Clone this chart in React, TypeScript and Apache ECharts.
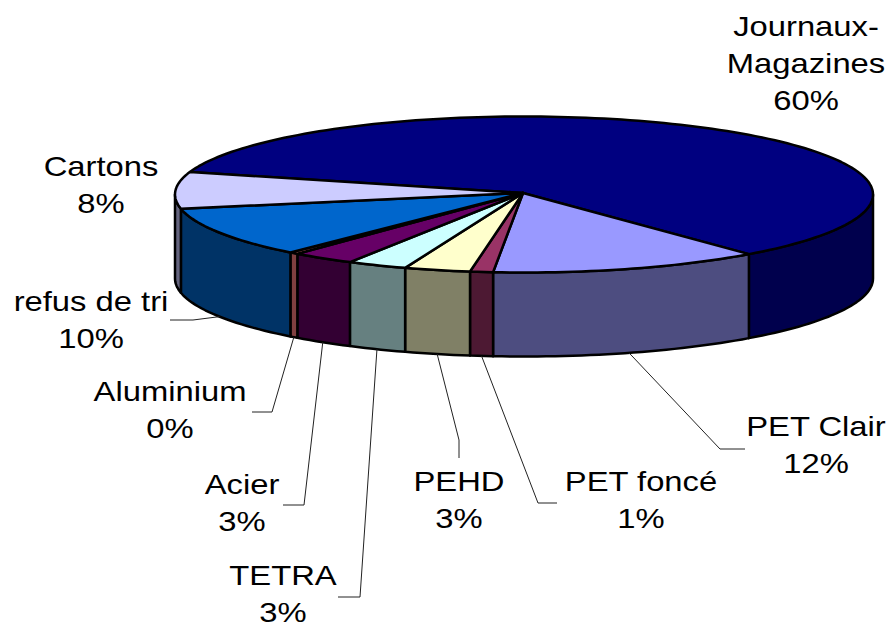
import React, { useEffect, useRef } from "react";
import * as echarts from "echarts";

const categories = ["Journaux-\nMagazines", "PET Clair", "PET foncé", "PEHD", "TETRA", "Acier", "Aluminium", "refus de tri", "Cartons"];
const shares = [59.2, 12.56, 1.06, 3.06, 2.78, 2.94, 0.42, 10.4, 7.6];
const percentLabels = ["60%", "12%", "1%", "3%", "3%", "3%", "0%", "10%", "8%"];
const topColors = ["#000080", "#9999FF", "#993366", "#FFFFCC", "#CCFFFF", "#660066", "#FF8080", "#0066CC", "#CCCCFF"];
const sideColors = ["#00004D", "#4D4D80", "#4D1933", "#808066", "#668080", "#330033", "#804040", "#003366", "#666680"];

// layout of the tilted pie
const CX = 524, CY = 194.5, RX = 349, RY = 78, DEPTH = 84, START_DEG = -163.2;
const CENTER: [number, number] = [523, 193];
const FONT_SIZE = 28, LINE_H = 37, STRETCH = 1.17;

// label anchor (centre x, centre y of the block) and leader-line elbows
const labelPos: [number, number][] = [
  [806, 63], [816, 444], [641, 499], [459, 499], [283, 593], [242, 502], [170, 409], [91, 319], [101, 184],
];
const leaderElbows: [number, number][][] = [
  [], [[720, 449], [745, 449]], [[538, 503], [557, 503]], [[459, 440], [459, 458]], [[360, 597], [338, 597]],
  [[304, 505], [283, 505]], [[272, 412], [252, 412]], [[193, 320], [170, 320]], [],
];

const total = shares.reduce((a, b) => a + b, 0);
const rim = (deg: number, dy = 0): [number, number] => {
  const r = (deg * Math.PI) / 180;
  return [CX + RX * Math.cos(r), CY + RY * Math.sin(r) + dy];
};
const arc = (a: number, b: number, dy = 0) => {
  const pts: [number, number][] = [];
  const n = Math.max(2, Math.ceil(Math.abs(b - a) / 1.5));
  for (let i = 0; i <= n; i++) pts.push(rim(a + ((b - a) * i) / n, dy));
  return pts;
};

const renderItem = (params: any, api: any) => {
  const i = params.dataIndex;
  const before = shares.slice(0, i).reduce((a, b) => a + b, 0);
  const a0 = START_DEG + (before / total) * 360;
  const a1 = a0 + (api.value(0) / total) * 360;
  const children: any[] = [];
  const edge = { stroke: "#000", lineWidth: 2.5, lineJoin: "round" };

  const w0 = Math.max(a0, 0), w1 = Math.min(a1, 180);
  if (w1 > w0) {
    children.push({
      type: "polygon",
      shape: { points: [...arc(w0, w1), ...arc(w0, w1, DEPTH).reverse()] },
      style: { fill: sideColors[i], ...edge },
    });
  }
  children.push({
    type: "polygon",
    shape: { points: [CENTER, ...arc(a0, a1)] },
    style: { fill: topColors[i], ...edge },
  });
  if (leaderElbows[i].length) {
    children.push({
      type: "polyline",
      shape: { points: [rim((a0 + a1) / 2, DEPTH), ...leaderElbows[i]] },
      style: { stroke: "#222", lineWidth: 1, fill: "none" },
    });
  }
  children.push({
    type: "text",
    x: labelPos[i][0],
    y: labelPos[i][1],
    scaleX: STRETCH,
    style: {
      text: `${categories[i]}\n${percentLabels[i]}`,
      x: 0,
      y: 0,
      align: "center",
      verticalAlign: "middle",
      fontFamily: "Liberation Sans",
      fontSize: FONT_SIZE,
      lineHeight: LINE_H,
      fill: "#000",
    },
  });
  return { type: "group", children };
};

export default function App() {
  const ref = useRef<HTMLDivElement>(null);
  useEffect(() => {
    document.body.style.margin = "0";
    const chart = echarts.init(ref.current!, undefined, { renderer: "svg" });
    chart.setOption({
      animation: false,
      backgroundColor: "#fff",
      series: [
        {
          type: "custom",
          coordinateSystem: "none",
          silent: true,
          clip: false,
          renderItem,
          data: shares.map((v) => [v]),
        },
      ],
    });
    return () => chart.dispose();
  }, []);
  return <div ref={ref} style={{ width: 889, height: 623 }} />;
}
